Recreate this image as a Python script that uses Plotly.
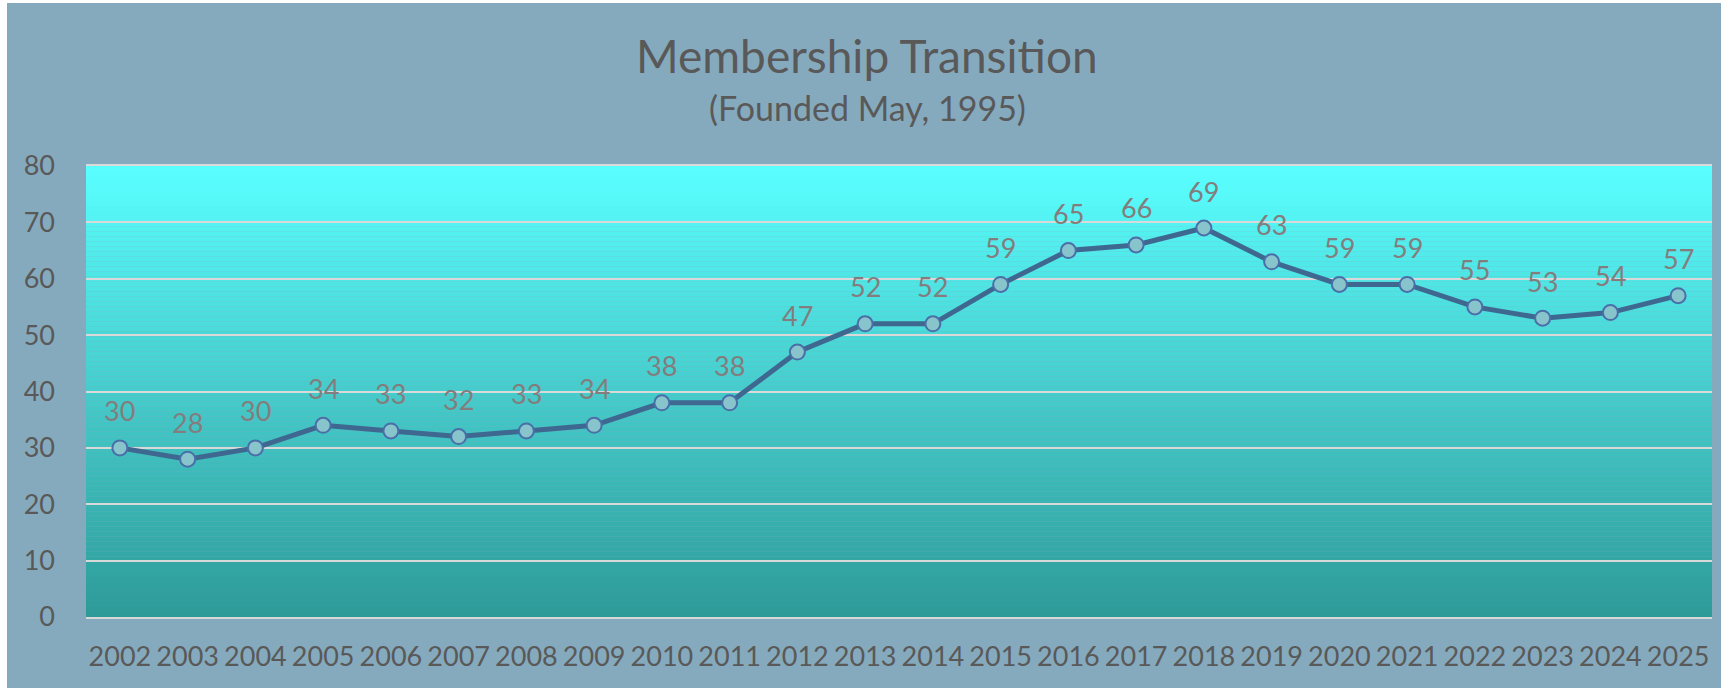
import plotly.graph_objects as go

years = [str(y) for y in range(2002, 2026)]
members = [30, 28, 30, 34, 33, 32, 33, 34, 38, 38, 47, 52, 52, 59, 65, 66, 69, 63, 59, 59, 55, 53, 54, 57]
y_ticks = [0, 10, 20, 30, 40, 50, 60, 70, 80]

title_text = "Membership Transition"
subtitle_text = "(Founded May, 1995)"

W, H = 1721, 689
L, R, T, B = 86, 1712, 166, 617  # plot area pixel bounds

def px_x(p):
    return (p - L) / (R - L)

def px_y(p):
    return (B - p) / (B - T)

FONT = "Lato"
bg = "#86AABD"

fig = go.Figure()
fig.add_trace(go.Scatter(
    x=years, y=members, mode="lines+markers",
    line=dict(color="#3E6890", width=5),
    marker=dict(size=15, color="#88C4CB", line=dict(color="#4A6FA8", width=2)),
    hoverinfo="x+y",
))

annotations = []
for i, v in enumerate(members):
    annotations.append(dict(x=i, y=v, xref="x", yref="y", text=str(v), showarrow=False,
                            yshift=37, font=dict(family=FONT, size=27, color="#837D7E")))
annotations.append(dict(x=px_x(867), xref="paper", y=px_y(55), yref="paper", text=title_text,
                        showarrow=False, yanchor="middle", xanchor="center",
                        font=dict(family=FONT, size=46, color="#595959")))
annotations.append(dict(x=px_x(867), xref="paper", y=px_y(108), yref="paper", text=subtitle_text,
                        showarrow=False, yanchor="middle", xanchor="center",
                        font=dict(family=FONT, size=34, color="#595959")))

# gradient plot background
shapes = []
N = 90
top = (0x5A, 0xFF, 0xFF)
bot = (0x2E, 0x9A, 0x98)
for i in range(N):
    t = (i + 0.5) / N
    c = tuple(round(bot[k] + (top[k] - bot[k]) * t) for k in range(3))
    shapes.append(dict(type="rect", xref="paper", yref="paper", x0=0, x1=1,
                       y0=i / N, y1=(i + 1) / N, fillcolor="rgb(%d,%d,%d)" % c,
                       line=dict(width=0), layer="below"))
# white strips on outer edges
for (x0, x1, y0, y1) in [(0, 7, 0, H), (0, W, 0, 3), (0, W, 688, H)]:
    shapes.append(dict(type="rect", xref="paper", yref="paper",
                       x0=px_x(x0), x1=px_x(x1), y0=px_y(y1), y1=px_y(y0),
                       fillcolor="white", line=dict(width=0), layer="below"))

fig.update_layout(
    width=W, height=H,
    margin=dict(l=L, r=W - R, t=T, b=H - B, pad=0),
    paper_bgcolor=bg, plot_bgcolor="rgba(0,0,0,0)",
    showlegend=False,
    annotations=annotations, shapes=shapes,
    font=dict(family=FONT, color="#595959"),
)
fig.update_xaxes(
    type="category", range=[-0.5, len(years) - 0.5], showgrid=False, zeroline=False,
    showline=True, mirror=True, linecolor="#D9D9D9", linewidth=2,
    tickfont=dict(family=FONT, size=27, color="#595959"),
    ticks="", ticklabelstandoff=15,
)
fig.update_yaxes(
    range=[0, 80], tickvals=y_ticks, showgrid=True, gridcolor="#D9D9D9", gridwidth=2,
    zeroline=False, showline=False,
    tickfont=dict(family=FONT, size=27, color="#595959"),
    ticks="", ticklabelstandoff=30,
)

fig.write_html("out.html", config={"displayModeBar": False},
               post_script="document.body.style.margin='0';document.body.style.overflow='hidden';")
